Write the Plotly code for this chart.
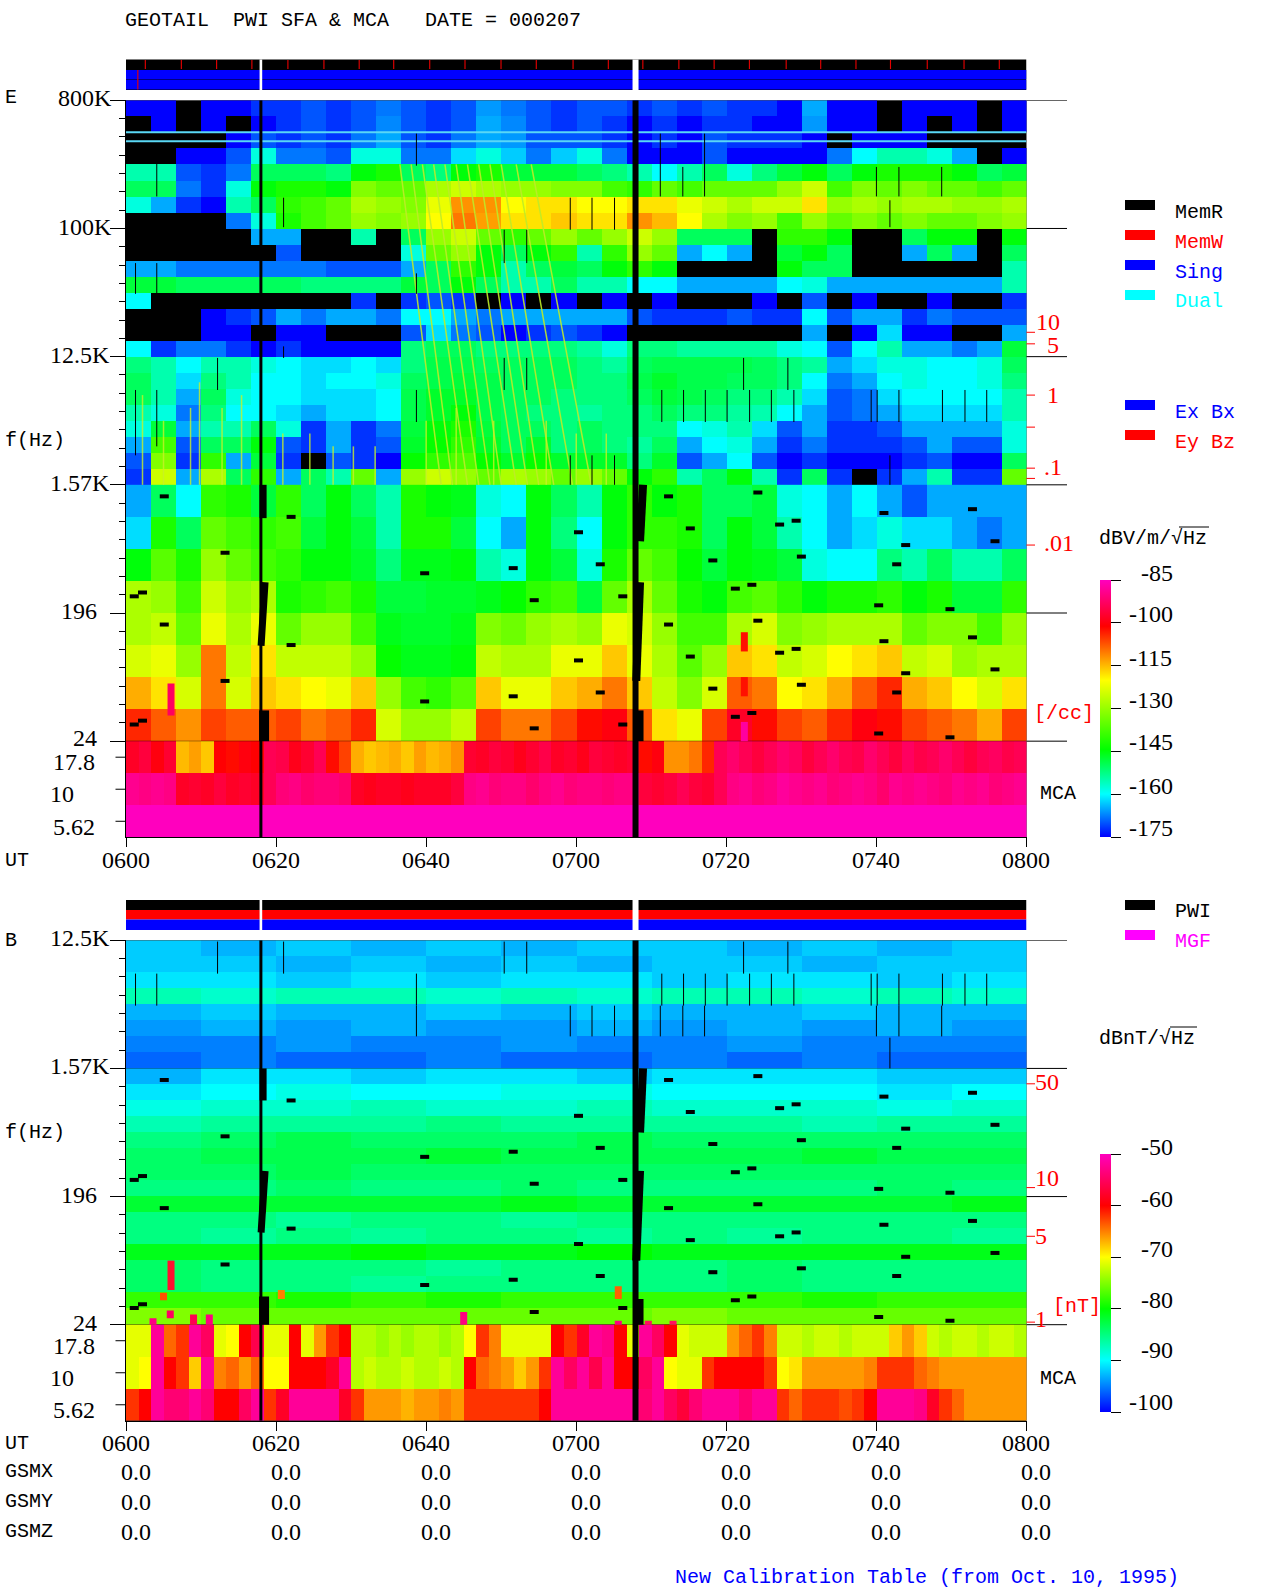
import plotly.graph_objects as go

W, H = 1280, 1593
FONT = "Liberation Mono"
NUMFONT = "Liberation Serif"
FS = 20
NS = 24
X0, X1 = 126.0, 1026.5

# ---------- data: values are minus dB, 0 = no data (black) ----------
E_HIGH = [
[175,175,0,175,175,172,172,170,172,170,168,170,172,170,166,168,170,172,170,170,172,170,172,170,172,172,175,165,175,175,0,175,175,175,0,175],
[0,175,0,175,0,175,172,170,172,170,167,170,172,170,165,167,170,172,170,172,175,172,175,172,172,175,175,166,175,175,0,175,0,175,0,175],
[0,0,0,0,175,170,172,170,172,168,165,170,172,168,165,166,170,170,170,172,175,172,175,170,172,172,172,175,0,175,175,175,0,0,0,0],
[0,0,175,175,170,158,168,168,170,158,158,168,168,162,158,163,168,163,158,168,175,175,175,170,175,175,175,175,168,160,155,155,158,165,0,175],
[155,155,170,172,168,150,150,150,152,145,142,150,152,145,142,148,148,148,150,152,155,160,155,150,158,152,148,145,150,145,142,142,142,145,150,148],
[150,150,168,172,158,145,142,142,145,132,135,135,128,125,128,130,130,132,132,138,140,135,138,135,135,135,130,125,138,132,135,132,135,135,138,135],
[158,165,172,175,155,150,140,138,135,128,130,132,122,112,112,120,118,118,120,120,118,118,122,125,128,125,125,118,130,128,130,128,128,130,130,128],
[0,0,0,0,168,158,142,138,135,130,132,130,120,110,113,118,118,116,118,118,112,115,120,128,132,130,138,130,135,132,135,132,135,135,132,130],
[0,0,0,0,0,165,165,0,0,155,0,150,130,125,135,140,135,130,135,130,125,130,150,150,150,0,140,140,145,0,0,150,145,145,0,145],
[0,0,0,0,0,0,170,0,0,0,0,158,135,130,145,150,145,140,155,140,130,135,165,160,165,0,148,145,150,0,0,165,150,165,0,150],
[165,165,168,168,168,168,168,168,170,170,170,165,150,140,145,155,150,148,150,145,140,145,0,0,0,0,145,150,150,0,0,0,0,0,0,155],
[148,148,150,150,150,150,150,152,152,152,152,148,150,145,150,155,155,150,155,155,160,160,165,165,165,165,160,158,165,165,165,165,165,165,165,155],
[160,0,0,0,0,0,0,0,0,172,0,172,170,172,0,175,0,175,0,175,0,175,0,0,0,175,0,170,0,175,0,0,175,0,0,172],
[0,0,0,175,172,170,165,168,165,165,168,160,160,165,168,165,165,165,165,165,170,172,172,172,170,172,172,160,170,165,165,172,168,170,170,170],
[0,0,0,175,175,0,175,175,0,0,0,170,162,168,170,175,172,170,172,175,0,0,0,0,0,0,0,165,0,175,162,175,175,0,0,165],
[160,172,168,168,172,175,172,175,175,175,175,152,150,150,152,152,152,152,154,158,152,152,154,154,154,154,158,160,170,160,155,165,165,168,165,148],
[152,155,160,155,155,158,160,162,162,160,162,152,149,149,150,150,150,150,152,154,150,149,149,149,149,150,152,154,165,162,158,158,160,160,158,150],
[150,155,162,152,155,160,160,162,160,160,158,150,149,148,149,150,150,150,152,152,149,147,149,149,150,150,152,160,168,165,160,158,160,160,158,152],
[150,155,165,150,158,160,160,162,162,162,160,149,147,147,149,150,150,152,152,152,150,148,149,150,152,152,155,162,170,168,162,160,160,160,160,155],
[155,158,168,152,160,160,162,165,162,162,160,149,147,145,149,150,152,152,154,152,152,150,152,152,154,155,160,165,170,168,165,162,162,162,162,155],
[158,148,165,155,155,150,158,172,165,172,168,148,145,142,148,150,150,152,150,152,152,152,160,158,155,162,170,165,172,172,170,165,165,165,165,158],
[165,138,170,150,150,145,170,172,165,172,170,147,144,140,147,150,147,152,150,152,154,150,165,160,158,165,172,168,172,172,172,170,165,170,170,158],
[170,132,172,140,165,148,172,0,170,172,175,144,140,137,144,147,144,147,147,147,152,147,170,165,160,170,175,172,175,175,175,172,170,175,175,150],
[172,125,165,128,150,140,165,150,155,135,165,130,125,130,135,128,130,135,130,135,145,140,155,150,145,155,172,150,172,0,172,165,155,172,172,135],
]
E_LOW = [
[165,150,160,140,142,148,140,150,145,150,155,142,145,146,158,160,145,150,155,145,140,145,142,150,150,148,158,160,165,160,165,170,165,165,165,165],
[162,142,150,135,138,140,138,148,145,148,155,142,142,148,160,165,145,152,160,145,140,140,142,150,145,148,155,160,165,162,158,162,162,165,168,165],
[145,136,142,130,135,138,140,145,145,147,152,146,146,145,155,158,145,148,158,142,135,138,144,148,145,146,148,158,160,160,152,155,150,155,155,150],
[128,130,138,125,130,128,142,140,138,142,148,148,147,147,146,144,140,138,148,135,128,135,142,145,138,136,140,145,142,142,140,145,142,148,148,140],
[128,126,135,122,128,122,135,130,130,138,146,147,147,146,132,134,130,128,130,122,124,130,138,138,128,124,132,130,128,128,128,135,132,132,138,130],
[124,122,130,110,126,118,126,126,126,130,144,146,146,145,126,128,128,122,122,116,122,128,136,130,116,118,126,124,120,118,116,126,124,130,128,128],
[114,118,124,110,124,116,118,120,122,116,130,138,140,136,116,122,122,116,114,110,116,126,132,124,108,110,120,118,114,108,104,114,116,120,124,118],
[104,108,112,106,108,108,106,110,108,104,124,130,130,126,106,110,110,106,102,100,108,118,122,106,98,102,106,108,104,100,102,106,108,110,114,106],
]
E_MCA_TOP = [98,96,100,97,115,113,116,101,102,100,101,94,95,99,97,94,102,106,114,116,115,114,116,113,115,114,112,97,98,96,97,99,97,95,98,97,99,96,97,98,97,
             102,100,112,112,110,104,94,92,94,96,94,92,93,96,94,92,94,95,92,94,96,93,95,94,92,94,96,94,93,95,94]
E_MCA_MID = [89,90,89,90,98,97,98,96,98,97,98,94,91,90,92,91,91,92,98,99,98,98,99,98,98,98,96,90,89,91,90,90,92,90,89,91,90,90,91,90,90,
             96,97,96,94,96,97,94,90,89,91,90,88,89,90,89,91,90,89,90,92,89,90,89,90,91,89,90,89,91,90,89]
E_MCA_BOT = [85] * 72

B_HIGH = [
[92,93,92,93,92,93,92,92,93,92,93,92],
[92,92,93,92,93,92,93,92,92,93,92,92],
[91,91,92,91,92,91,91,92,91,91,92,91],
[87,88,87,87,88,87,88,87,87,88,87,88],
[93,92,93,93,92,93,92,93,93,92,93,93],
[94,93,94,93,94,94,93,94,93,94,93,94],
[95,95,94,95,95,94,95,95,94,95,95,95],
[96,95,96,96,95,96,96,95,96,95,96,96],
]
B_MID = [
[93,91,91,92,91,91,92,91,91,91,92,92],
[91,90,89,90,90,89,89,90,90,90,91,90],
[89,88,88,87,88,88,87,88,88,88,89,88],
[87,86,86,86,85,86,86,86,86,87,86,86],
[85,84,83,84,84,84,83,84,84,84,84,84],
[84,83,83,83,82,83,83,83,83,82,83,83],
[84,84,83,84,84,84,84,84,84,84,84,84],
[85,85,84,85,85,84,85,85,85,85,84,85],
[82,82,82,82,82,81,82,82,82,82,82,81],
[85,85,86,85,85,86,85,85,85,85,85,85],
[85,86,85,86,85,85,86,85,86,85,85,86],
[81,81,81,80,81,81,80,81,81,81,81,81],
[84,85,85,85,86,85,85,85,84,85,85,85],
[84,85,85,86,85,85,85,85,84,85,85,85],
[78,78,79,78,79,78,78,78,78,79,78,78],
[75,76,76,76,76,76,76,75,76,76,76,76],
]
B_MCA_TOP = [71,71,52,64,62,52,55,71,70,60,56,71,71,60,71,66,62,60,73,73,74,73,74,73,73,74,73,70,62,65,71,71,71,71,60,62,58,52,53,60,71,
             52,55,60,71,72,72,72,66,64,62,65,72,72,73,72,72,73,72,72,72,68,66,68,72,73,72,72,73,72,72,73]
B_MCA_MID = [71,70,52,60,62,68,52,65,64,66,64,70,70,60,60,60,58,52,73,72,73,73,72,73,73,72,73,60,64,65,66,68,66,62,52,55,52,56,52,60,60,
             55,52,70,71,71,62,60,60,60,60,62,70,69,66,66,66,66,66,65,62,62,62,64,65,66,66,66,66,66,66,66]
B_MCA_BOT = [62,60,52,54,54,52,54,60,60,55,52,62,58,52,52,52,52,58,62,66,66,66,67,66,66,65,66,62,62,62,62,62,62,60,52,52,52,52,52,52,52,
             54,52,55,57,54,52,52,52,54,52,52,62,64,62,62,62,63,62,60,52,52,52,53,58,62,64,66,66,66,66,66]

TIME_TICKS = [0, 20, 40, 60, 80, 100, 120]
TIME_LABELS = ["0600", "0620", "0640", "0700", "0720", "0740", "0800"]
GSM_ROWS = ["GSMX", "GSMY", "GSMZ"]
GSM_VALUE = "0.0"

# missing-data dashes (minutes after 0600, log8(f/24))
DASH_T = [4.5,0.5,1.6,4.5,12.6,12.6,0.5,1.6,21.4,21.4,59.7,39.2,39.2,51,51,53.8,53.8,62.6,62.6,59.7,65.6,65.6,
          71.7,74.6,77.6,80.6,82.8,83.6,71.7,74.6,77.6,80.6,82.8,83.6,86.5,88.7,89.4,88.7,86.5,89.4,100.4,103.3,102.1,99.7,109.2,100.4,103.3,102.1,99.7,109.2,112.2,115.2,112.2,115.2]
DASH_U = [1.91,1.13,1.16,0.91,1.47,0.47,0.13,0.16,1.75,0.75,1.63,1.31,0.31,1.35,0.35,1.10,0.10,1.38,0.38,0.63,1.13,0.13,
          1.91,1.66,1.41,1.19,1.22,0.94,0.91,0.66,0.41,0.19,0.22,1.94,1.69,1.72,1.44,0.72,0.69,0.44,1.78,1.53,1.38,1.06,1.03,0.78,0.53,0.38,0.06,0.03,1.81,1.56,0.81,0.56]

# thin calibration ticks in the E panel
ETICK_T  = [1.27,1.27,4.1,4.1,4.1,12.2,21,21,38.7,38.7,38.7,50.4,50.4,53.4,53.4,59.2,59.2,62.1,62.1,65.1,65.1,71.2,74.2,77.1,82.3,88.2,71.4,74.3,77.2,80.1,83.1,86,89,100,103,108.7,101.8,99.3,100.1,103,108.8,111.8,114.7,101.8]
ETICK_U0 = [3.49,2.23,4.25,3.49,2.30,2.74,4.01,2.99,4.49,2.49,3.49,3.73,2.74,3.73,2.74,3.99,2.00,3.99,2.00,3.99,2.00,4.25,4.25,4.25,2.74,2.74,2.49,2.49,2.49,2.49,2.49,2.49,2.49,4.25,4.25,4.25,4.01,2.49,2.49,2.49,2.49,2.49,2.49,2.00]
ETICK_U1 = [3.73,2.74,4.52,3.73,2.74,2.99,4.24,3.08,4.74,2.74,3.65,3.99,2.99,3.99,2.99,4.24,2.23,4.24,2.23,4.24,2.23,4.74,4.48,4.74,2.99,2.99,2.74,2.74,2.74,2.74,2.74,2.74,2.74,4.48,4.48,4.48,4.22,2.74,2.74,2.74,2.74,2.74,2.74,2.23]
BTICK_T  = [12.2,21,38.7,50.4,53.4,82.3,88.2,1.27,4.1,38.7,71.4,74.3,77.2,80.1,83.1,86,89,99.3,100.1,103,108.8,111.8,114.7,71.2,74.2,77.1,100,103,108.7,101.8,59.2,62.1,65.1]
BTICK_U0 = [2.74,2.74,2.49,2.74,2.74,2.74,2.74,2.49,2.49,2.25,2.49,2.49,2.49,2.49,2.49,2.49,2.49,2.49,2.49,2.49,2.49,2.49,2.49,2.25,2.25,2.25,2.25,2.25,2.25,2.00,2.25,2.25,2.25]
BTICK_U1 = [2.99,2.99,2.74,2.99,2.99,2.99,2.99,2.74,2.74,2.49,2.74,2.74,2.74,2.74,2.74,2.74,2.74,2.74,2.74,2.74,2.74,2.74,2.74,2.49,2.49,2.49,2.49,2.49,2.49,2.24,2.49,2.49,2.49]

# whistler-like oblique streaks between u=4.5 and u=2, and short rising streaks above 1.57K
STREAK_TOP = [36.5,38,39.5,41,42.5,44,45.5,47,48.5,50,52,54]
STREAK_BOT = [42,43.5,45.5,47,48.5,50,52,53.5,55,57,59.5,62]
RISE_T = [2.2,5.0,8.6,9.8,12.8,15.4,20.9,24.5,27.6,30.3,33.2,40,44,49,56,60,64]
RISE_TOP = [2.7,2.5,2.6,2.8,2.6,2.7,2.4,2.4,2.3,2.3,2.3,2.5,2.6,2.5,2.5,2.4,2.4]

# data gaps: (t0, u0, t1, u1, width px)
GAPS_E = [(18.27,2.0,18.27,1.74,7),(18.53,1.24,18.0,0.745,7),(18.4,0.24,18.4,0.0,10),
          (68.9,2.0,68.5,1.56,8),(68.5,1.24,68.0,0.47,8),(68.3,0.24,68.3,0.0,10)]
GAPS_B = [(18.27,2.0,18.27,1.75,7),(18.53,1.2,18.0,0.72,7),(18.4,0.22,18.4,0.0,10),
          (68.9,2.0,68.5,1.5,8),(68.5,1.2,68.0,0.5,8),(68.3,0.2,68.3,0.0,10)]
GAP1 = (17.8, 18.15)
GAP2 = (67.5, 68.3)
STATUS_RED_T = [2.5,7.3,12,16.7,21.5,26.3,31,35.6,40.4,45.1,49.9,54.6,59.5,64.2,68.8,73.6,78.3,83,87.9,92.5,97.2,101.8,106.7,111.6,116.3]

B_BURST = [(6.0,0.5,0.27,"#ff1030"),(5.0,0.25,0.19,"#ff5000"),(5.9,0.11,0.05,"#ff0060"),(9.0,0.08,0.0,"#ff0050"),(11.1,0.08,0.0,"#ff0080"),
           (3.6,0.05,0.0,"#ff0080"),(45.0,0.1,0.0,"#ff0080"),(65.6,0.3,0.2,"#ff6000"),(65.6,0.03,0.0,"#ff0080"),(20.7,0.27,0.2,"#ff8000"),(69.6,0.03,0.0,"#ff1060"),(72.9,0.03,0.0,"#ff1060")]
E_BURST = [(82.4,0.85,0.7,"#ff1000"),(82.4,0.5,0.35,"#ff1000"),(82.4,0.15,0.0,"#ff00a0"),(6.0,0.45,0.2,"#ff0060")]

DENS_E_U = [3.19,3.10,2.70,2.45,2.13,2.05,1.53]
DENS_B_U = [1.88,1.07,0.69,0.02]

CS_E = [[0,"rgb(0,0,255)"],[0.167,"rgb(0,255,255)"],[0.34,"rgb(0,255,0)"],[0.61,"rgb(255,255,0)"],[0.82,"rgb(255,0,0)"],[1,"rgb(255,0,190)"]]
CS_B = [[0,"rgb(0,0,255)"],[0.2,"rgb(0,255,255)"],[0.4,"rgb(0,255,0)"],[0.6,"rgb(255,255,0)"],[0.8,"rgb(255,0,0)"],[1,"rgb(255,0,190)"]]


def neg(rows):
    return [[(None if v == 0 else -v) for v in r] for r in rows]


fig = go.Figure()


def band(rows, u_top, du, ax, ca):
    """rows listed top to bottom, each spanning du in the log-frequency axis"""
    n, m = len(rows), len(rows[0])
    dt = 120.0 / m
    fig.add_trace(go.Heatmap(
        z=neg(rows)[::-1], x0=dt / 2, dx=dt,
        y0=u_top - du * (n - 0.5), dy=du,
        coloraxis=ca, xaxis=ax[0], yaxis=ax[1], hoverinfo="skip"))


def segs(t0, u0, t1, u1, color, width, ax):
    xs, ys = [], []
    for a, b, c, d in zip(t0, u0, t1, u1):
        xs += [a, c, None]
        ys += [b, d, None]
    fig.add_trace(go.Scatter(x=xs, y=ys, mode="lines", line=dict(color=color, width=width),
                             xaxis=ax[0], yaxis=ax[1], hoverinfo="skip", showlegend=False))


AE = ("x", "y")
AB = ("x2", "y2")
band(E_HIGH, 5, 1 / 8, AE, "coloraxis")
band(E_LOW, 2, 1 / 4, AE, "coloraxis")
band([E_MCA_TOP, E_MCA_MID, E_MCA_BOT], 0, 1 / 4, AE, "coloraxis")
band(B_HIGH, 3, 1 / 8, AB, "coloraxis2")
band(B_MID, 2, 1 / 8, AB, "coloraxis2")
band([B_MCA_TOP, B_MCA_MID, B_MCA_BOT], 0, 1 / 4, AB, "coloraxis2")

# streaks
segs(STREAK_TOP, [4.5] * len(STREAK_TOP), STREAK_BOT, [2.0] * len(STREAK_BOT), "rgba(190,235,40,0.9)", 1.5, AE)
segs(RISE_T, [2.0] * len(RISE_T), RISE_T, RISE_TOP, "rgba(200,240,40,0.8)", 1.5, AE)
# horizontal interference lines
segs([0, 0], [4.75, 4.68], [120, 120], [4.75, 4.68], "rgb(90,215,245)", 2, AE)

# bursts
for t, a, b, c in E_BURST:
    segs([t], [a], [t], [b], c, 7, AE)
for t, a, b, c in B_BURST:
    segs([t], [a], [t], [b], c, 7, AB)

for ax, ticks, gaps, top in ((AE, (ETICK_T, ETICK_U0, ETICK_U1), GAPS_E, 5), (AB, (BTICK_T, BTICK_U0, BTICK_U1), GAPS_B, 3)):
    segs(ticks[0], ticks[1], ticks[0], ticks[2], "black", 1, ax)
    segs(DASH_T, DASH_U, [t + 1.2 for t in DASH_T], DASH_U, "black", 4, ax)
    segs([sum(GAP1) / 2], [-0.75], [sum(GAP1) / 2], [top], "black", 3, ax)
    segs([sum(GAP2) / 2], [-0.75], [sum(GAP2) / 2], [top], "black", 6, ax)
    for g in gaps:
        segs([g[0]], [g[1]], [g[2]], [g[3]], "black", g[4], ax)


def py(y):
    return 1 - y / H


def px(x):
    return x / W


shapes = []
ann = []


def rect_paper(x0, y0, x1, y1, color):
    shapes.append(dict(type="rect", xref="paper", yref="paper", x0=px(x0), x1=px(x1), y0=py(y0), y1=py(y1),
                       fillcolor=color, line=dict(width=0), layer="above"))


def rect_bar(t0, y0, t1, y1, color, xr="x"):
    shapes.append(dict(type="rect", xref=xr, yref="paper", x0=t0, x1=t1, y0=py(y0), y1=py(y1),
                       fillcolor=color, line=dict(width=0), layer="above"))


def text(x, y, s, color="black", anchor="left", size=FS, family=FONT):
    ann.append(dict(xref="paper", yref="paper", x=px(x), y=py(y), text=s.replace(" ", "\u00a0"), showarrow=False,
                    xanchor=anchor, yanchor="middle", font=dict(family=family, size=size, color=color), borderpad=0, borderwidth=0))


def num(x, y, s, color="black", anchor="left"):
    text(x, y, s, color, anchor, NS, NUMFONT)


def hline_u(x0, x1, u, yr, color="black", w=1):
    shapes.append(dict(type="line", xref="paper", yref=yr, x0=px(x0), x1=px(x1), y0=u, y1=u,
                       line=dict(color=color, width=w), layer="above"))


# status bars
rect_bar(0, 59.5, 120, 90, "black")
rect_bar(0, 70, 120, 79.5, "rgb(0,0,255)")
rect_bar(0, 80, 120, 89.5, "rgb(0,0,255)")
rect_bar(0, 900, 120, 910, "black", "x2")
rect_bar(0, 910, 120, 919.5, "rgb(255,0,0)", "x2")
rect_bar(0, 919.5, 120, 930, "rgb(0,0,255)", "x2")
for t in STATUS_RED_T:
    rect_bar(t, 60, t + 0.15, 69, "rgb(230,0,0)")
rect_bar(1.5, 70, 1.65, 89.5, "rgb(230,0,0)")
for g in (GAP1, GAP2):
    rect_bar(g[0], 59.5, g[1], 90, "white")
    rect_bar(g[0], 900, g[1], 930, "white", "x2")

# right ticks
for u in (0, 1, 2, 3, 4, 5):
    hline_u(X1, 1067, u, "y")
for u in (0, 1, 2, 3):
    hline_u(X1, 1067, u, "y2")
for u in DENS_E_U:
    hline_u(X1, 1035, u, "y", "rgb(255,0,0)")
for u in DENS_B_U:
    hline_u(X1, 1035, u, "y2", "rgb(255,0,0)")
# MCA ticks on the left
for u in (-0.125, -0.375, -0.625):
    hline_u(115.5, X0, u, "y")
    hline_u(115.5, X0, u, "y2")

# legends
for y, c in ((200, "black"), (230, "rgb(255,0,0)"), (260, "rgb(0,0,255)"), (290, "rgb(0,255,255)"),
             (400, "rgb(0,0,255)"), (430, "rgb(255,0,0)"), (900, "black"), (930, "rgb(255,0,255)")):
    rect_paper(1125, y, 1155, y + 10, c)
for y, s, c in ((212, "MemR", "black"), (242, "MemW", "rgb(255,0,0)"), (272, "Sing", "rgb(0,0,255)"), (302, "Dual", "rgb(0,255,255)"),
                (412, "Ex Bx", "rgb(0,0,255)"), (442, "Ey Bz", "rgb(255,0,0)"), (911, "PWI", "black"), (942, "MGF", "rgb(255,0,255)")):
    text(1175, y, s, c)

# title and axis labels
text(124.5, 20, "GEOTAIL  PWI SFA & MCA   DATE = 000207")
for x, y, s in ((5, 98, "E"), (5, 440, "f(Hz)"), (5, 860, "UT"), (1040, 793, "MCA"),
                (5, 940, "B"), (5, 1132, "f(Hz)"), (5, 1443, "UT"), (1040, 1378.7, "MCA")):
    text(x, y, s)
for x, y, s in ((58, 98, "800K"), (58, 226.7, "100K"), (50, 355, "12.5K"), (50, 482.7, "1.57K"),
                (61, 611, "196"), (73, 738, "24"), (53, 762, "17.8"), (50, 794, "10"), (53, 826.7, "5.62"),
                (50, 938, "12.5K"), (50, 1066, "1.57K"), (61, 1195, "196"), (73, 1323, "24"),
                (53, 1346, "17.8"), (50, 1378, "10"), (53, 1410, "5.62")):
    num(x, y, s)

# time labels
for t, s in zip(TIME_TICKS, TIME_LABELS):
    for y in (860, 1443):
        num(X0 + 7.5 * t, y, s, "black", "center")

# density labels
for x, y, s in ((1036, 322, "10"), (1047, 345, "5"), (1047, 395, "1"), (1044, 467, ".1"), (1044, 543, ".01"),
                (1035, 1082, "50"), (1035, 1178, "10"), (1035, 1236, "5"), (1035, 1319, "1")):
    num(x, y, s, "rgb(255,0,0)")
text(1034, 713, "[/cc]", "rgb(255,0,0)")
text(1053, 1306, "[nT]", "rgb(255,0,0)")

# GSM rows
for y, s in zip((1471.7, 1501.7, 1531.7), GSM_ROWS):
    text(5, y, s)
    for t in TIME_TICKS:
        num(120.5 + 7.5 * t, y, GSM_VALUE)

text(674.7, 1577, "New Calibration Table (from Oct. 10, 1995)", "rgb(0,0,255)")

# colour bar labels
text(1099, 538, "dBV/m/\u221aHz")
shapes.append(dict(type="line", xref="paper", yref="paper", x0=px(1179), x1=px(1209), y0=py(527), y1=py(527), line=dict(color="black", width=1)))
text(1099, 1038.5, "dBnT/\u221aHz")
shapes.append(dict(type="line", xref="paper", yref="paper", x0=px(1170), x1=px(1197), y0=py(1027), y1=py(1027), line=dict(color="black", width=1)))
for x, y, s in ((1141, 572.7, "-85"), (1129, 614, "-100"), (1129, 658, "-115"), (1129, 700, "-130"), (1129, 742, "-145"), (1129, 786, "-160"), (1129, 828, "-175"),
                (1141, 1146.5, "-50"), (1141, 1198.7, "-60"), (1141, 1248.6, "-70"), (1141, 1300.4, "-80"), (1141, 1350.4, "-90"), (1129, 1402, "-100")):
    num(x, y, s)

minor_e = [i / 7 for i in range(0, 36) if i % 7]
minor_b = [i / 7 for i in range(0, 22) if i % 7]


def yax(rng, top, bottom, major, minor, anchor):
    return dict(domain=[py(bottom), py(top)], range=rng, anchor=anchor, showgrid=False, zeroline=False,
                showline=True, linecolor="black", linewidth=1, ticks="outside", ticklen=15, tickcolor="black",
                tickvals=major, showticklabels=False,
                minor=dict(tickvals=minor, ticks="outside", ticklen=6, tickcolor="black", showgrid=False))


def xax(anchor):
    return dict(domain=[px(X0), px(X1)], range=[0, 120], anchor=anchor, showgrid=False, zeroline=False,
                showline=True, linecolor="black", linewidth=1, ticks="outside", ticklen=9, tickcolor="black",
                tickvals=TIME_TICKS, showticklabels=False)


def cbar(bottom, length, vals):
    return dict(x=px(1100), xanchor="left", xpad=0, ypad=0, y=py(bottom), yanchor="bottom", len=length, lenmode="pixels",
                thickness=11, thicknessmode="pixels", outlinewidth=0, ticks="outside", ticklen=10, tickcolor="black",
                tickvals=vals, showticklabels=False)


fig.update_layout(
    width=W, height=H, autosize=False, margin=dict(l=0, r=0, t=0, b=0, autoexpand=False),
    paper_bgcolor="white", plot_bgcolor="black", showlegend=False,
    xaxis=xax("y"), xaxis2=xax("y2"),
    yaxis=yax([-0.75, 5], 100.3, 837.3, [0, 1, 2, 3, 4, 5], minor_e, "x"),
    yaxis2=yax([-0.75, 3], 940.3, 1420.8, [0, 1, 2, 3], minor_b, "x2"),
    coloraxis=dict(cmin=-175, cmax=-85, colorscale=CS_E, colorbar=cbar(837, 257, [-85, -100, -115, -130, -145, -160, -175])),
    coloraxis2=dict(cmin=-100, cmax=-50, colorscale=CS_B, colorbar=cbar(1412, 258, [-50, -60, -70, -80, -90, -100])),
    shapes=shapes, annotations=ann,
)

fig.write_html("out.html", config=dict(displayModeBar=False), post_script="document.body.style.margin='0';")
